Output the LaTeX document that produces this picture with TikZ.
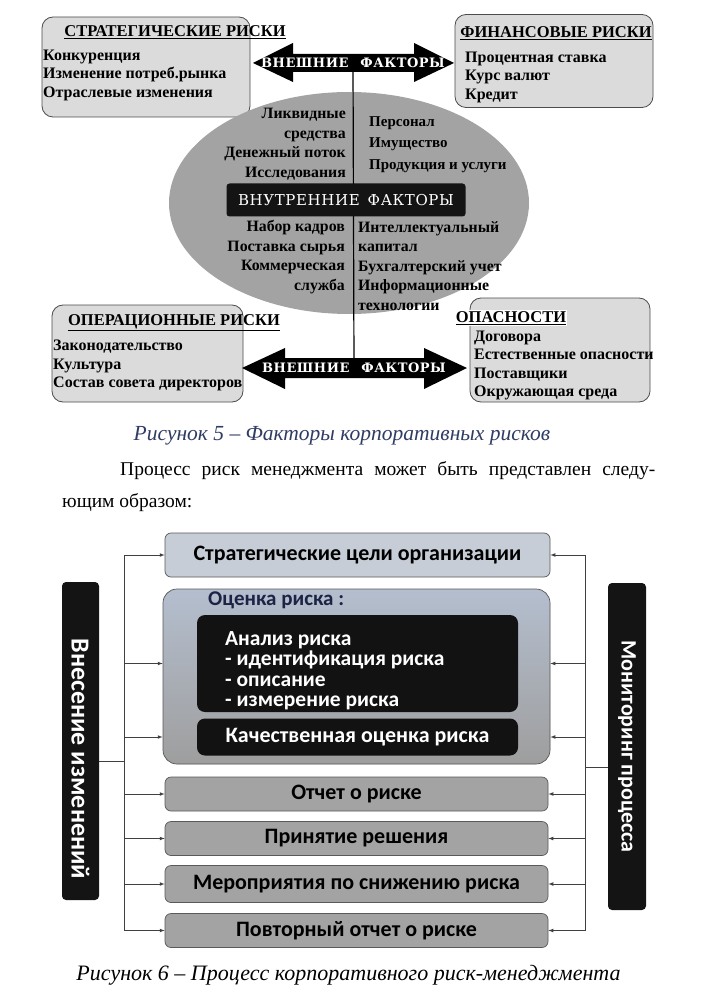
\documentclass[tikz,border=0pt]{standalone}
\usepackage{fontspec}
\setmainfont{Liberation Serif}
\newfontfamily\calibfont{Carlito}
\newfontfamily\engrfont[LetterSpace=4]{DejaVu Serif}
\usetikzlibrary{positioning, shapes.geometric, arrows, fit}
\definecolor{capblue}{RGB}{48,60,100}
\definecolor{goalfill}{RGB}{198,205,214}
\definecolor{assesstop}{RGB}{180,190,206}
\definecolor{navytext}{RGB}{28,36,70}

\begin{document}
\begin{tikzpicture}[x=1pt, y=-1pt,
    riskbox/.style={draw=black!70, fill=black!14, rounded corners=11pt, line width=0.8pt},
    boxtitle/.style={font=\fontsize{16.5}{18}\selectfont\bfseries, inner sep=1pt},
    itemlist/.style={font=\fontsize{16}{18.3}\selectfont\bfseries, align=left, anchor=north west, inner sep=0pt},
    intitem/.style={font=\fontsize{15.8}{19.5}\selectfont\bfseries, inner sep=0pt},
    extlabel/.style={font=\engrfont\fontsize{13}{13}\selectfont\bfseries, text=white, inner sep=0pt, minimum height=18},
    procbox/.style={draw=black!65, fill=black!36, rounded corners=6pt, line width=0.7pt, minimum width=383, minimum height=34, font=\calibfont\fontsize{22}{24}\selectfont\bfseries},
    darkbox/.style={fill=black!93, rounded corners=8pt, text=white, font=\calibfont\fontsize{22}{24}\selectfont\bfseries},
    sidebar/.style={fill=black!92, rounded corners=4pt, text=white, rotate=-90, font=\calibfont\fontsize{22}{24}\selectfont\bfseries},
    rail/.style={draw=black!75, line width=0.7pt},
    flowarr/.style={rail, -latex}]
    \useasboundingbox[fill=white] (0,0) rectangle (703,992);

    % Risk groups
    \node[riskbox, minimum width=208, minimum height=100] (stratBox) at (146,67) {};
    \node[riskbox, minimum width=198, minimum height=93] (finBox) at (554,61) {};
    \node[riskbox, minimum width=191, minimum height=97] (operBox) at (147.5,353.5) {};
    \node[riskbox, minimum width=180, minimum height=104] (dangBox) at (560,350) {};
    \node[boxtitle] (stratTitle) at (175,32) {\underline{СТРАТЕГИЧЕСКИЕ РИСКИ}};
    \node[boxtitle] (finTitle) at (556,33) {\underline{ФИНАНСОВЫЕ РИСКИ}};
    \node[boxtitle] (operTitle) at (174,323) {\underline{ОПЕРАЦИОННЫЕ РИСКИ}};
    \node[boxtitle, fill=white] (dangTitle) at (511,318) {\underline{ОПАСНОСТИ}};
    \node[itemlist] (stratList) at (43,50) {Конкуренция\\Изменение потреб.рынка\\Отраслевые изменения};
    \node[itemlist] (finList) at (465,52) {Процентная ставка\\Курс валют\\Кредит};
    \node[itemlist] (operList) at (53,340) {Законодательство\\Культура\\Состав совета директоров};
    \node[itemlist] (dangList) at (474,331) {Договора\\Естественные опасности\\Поставщики\\Окружающая среда};

    % Internal factors
    \node[ellipse, fill=black!36, minimum width=360, minimum height=222, inner sep=0pt] (intEll) at (349,203) {};
    \fill (253,63) -- (293,43) -- (293,54) -- (414,54) -- (414,43) -- (454,63) -- (414,82) -- (414,72) -- (293,72) -- (293,82) -- cycle;
    \fill (242,368) -- (285,348) -- (285,358) -- (424,358) -- (424,348) -- (467,368) -- (424,389) -- (424,378) -- (285,378) -- (285,389) -- cycle;
    \node[extlabel] (extTop) at (353,63) {ВНЕШНИЕ\hspace{12pt}ФАКТОРЫ};
    \node[extlabel] (extBot) at (354,368) {ВНЕШНИЕ\hspace{12pt}ФАКТОРЫ};
    \draw[line width=1.2pt] (extTop) -- (extBot);
    \node[fill=black!92, rounded corners=3pt, minimum width=239, minimum height=33, text=white, font=\engrfont\fontsize{15}{15}\selectfont] (intBox) at (346,200) {ВНУТРЕННИЕ\hspace{8pt}ФАКТОРЫ};
    \node[intitem, align=right, anchor=north east] (intLT) at (346,108) {Ликвидные\\средства\hspace*{21pt}\\Денежный поток\\Исследования};
    \node[intitem, align=left, anchor=north west, font=\fontsize{15}{21.5}\selectfont\bfseries] (intRT) at (369,116) {Персонал\\Имущество\\Продукция и услуги};
    \node[intitem, align=right, anchor=north east] (intLB) at (345,220) {Набор кадров\\Поставка сырья\\Коммерческая\\служба};
    \node[intitem, align=left, anchor=north west] (intRB) at (358,221) {Интеллектуальный\\капитал\\Бухгалтерский учет\\Информационные\\технологии};

    % Captions and text
    \node[font=\itshape\fontsize{21.5}{24}\selectfont, text=capblue] (capA) at (342,436) {Рисунок 5 – Факторы корпоративных рисков};
    \node[anchor=west, inner sep=0pt, font=\fontsize{19.5}{24}\selectfont] (paraA) at (120,471) {\makebox[535pt][s]{Процесс риск менеджмента может быть представлен следу-}};
    \node[anchor=west, inner sep=0pt, font=\fontsize{19.5}{24}\selectfont] (paraB) at (62,503) {ющим образом:};

    % Process steps
    \node[procbox, fill=goalfill, minimum width=385, minimum height=44] (goal) at (357.5,555) {Стратегические цели организации};
    \node[procbox, top color=assesstop, bottom color=black!38, minimum width=387, minimum height=175, rounded corners=14pt] (assess) at (356.5,676.5) {};
    \node[anchor=west, inner sep=0pt, text=navytext, font=\calibfont\fontsize{21}{23}\selectfont\bfseries] (assessTitle) at (208,600) {Оценка риска :};
    \node[darkbox, minimum width=321, minimum height=97] (anal) at (357.5,663.5) {};
    \node[anchor=north west, align=left, inner sep=0pt, text=white, font=\calibfont\fontsize{21.5}{20.5}\selectfont\bfseries] (analText) at (225,631) {Анализ риска\\- идентификация риска\\- описание\\- измерение риска};
    \node[darkbox, minimum width=321, minimum height=37] (quality) at (357.5,737) {Качественная оценка риска};
    \node[procbox] (report) at (356.5,794) {Отчет о риске};
    \node[procbox] (decision) at (356.5,838.5) {Принятие решения};
    \node[procbox, minimum height=37] (measures) at (356.5,884) {Мероприятия по снижению риска};
    \node[procbox] (repeatRep) at (356.5,930.5) {Повторный отчет о риске};

    % Side bars
    \node[sidebar, minimum width=318, minimum height=37, font=\calibfont\fontsize{26}{28}\selectfont\bfseries] (changeBar) at (80.5,741) {\hspace*{36pt}Внесение изменений};
    \node[sidebar, minimum width=327, minimum height=38] (monitorBar) at (627,746.5) {Мониторинг процесса};

    % Rails and arrows
    \coordinate (railL) at (124,761);
    \coordinate (railR) at (585,767);
    \draw[rail] (railL |- goal.west) -- (railL |- repeatRep.west);
    \draw[rail] (railR |- goal.east) -- (railR |- repeatRep.east);
    \draw[rail] (railL -| changeBar.north) -- (railL);
    \draw[rail] (railR) -- (railR -| monitorBar.south);
    \foreach \b in {goal, report, decision, measures, repeatRep} {
        \draw[flowarr] (railL |- \b.west) -- (\b.west);
        \draw[flowarr] (railR |- \b.east) -- (\b.east);
    }
    \foreach \b in {anal, quality} {
        \draw[flowarr] (railL |- \b.west) -- (assess.west |- \b.west);
        \draw[flowarr] (railR |- \b.east) -- (assess.east |- \b.east);
    }

    \node[font=\itshape\fontsize{22}{24}\selectfont] (capB) at (348.5,975) {Рисунок 6 – Процесс корпоративного риск-менеджмента};
\end{tikzpicture}
\end{document}
